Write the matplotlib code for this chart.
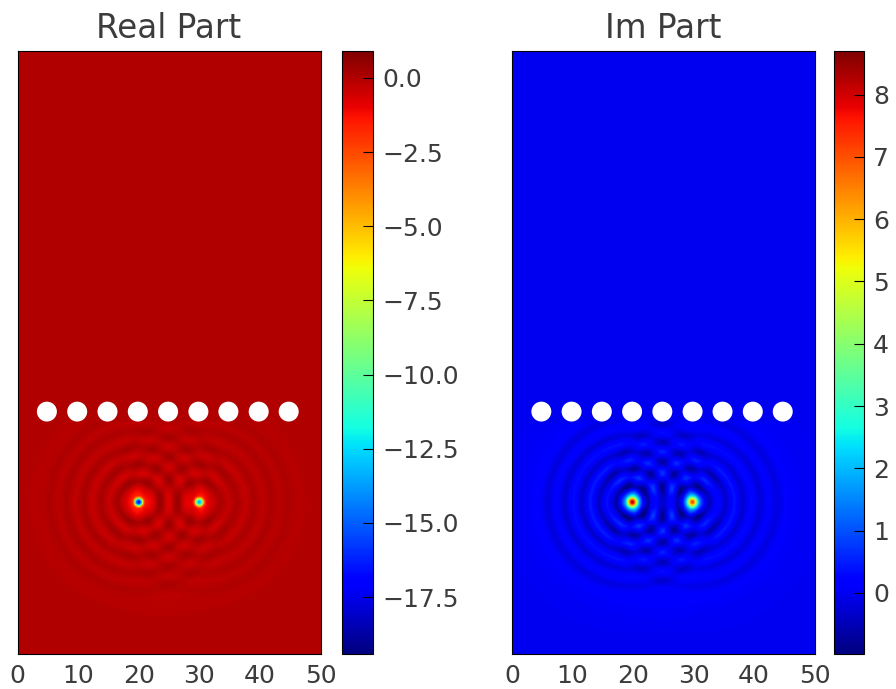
import numpy as np
import matplotlib
matplotlib.use('Agg')
import matplotlib.pyplot as plt

W, H = 896, 689

# grid of the simulated domain
x_max = 50
y_max = 100
cell = 0.25

# white holes in the row
hole_x = [4.85, 9.85, 14.85, 19.85, 24.85, 29.85, 34.8, 39.8, 44.75]
hole_y = 40.2
hole_r = 1.65

# the two sources and where the ripples stop (just under the holes)
source_x = [19.85, 29.8]
source_y = 25.2
source_scale_real = [1.0, 0.78]
source_scale_im = [1.0, 0.85]
cutoff_y = 38.5

# radial profiles: radius, value at that radius
real_r = [0, 0.4, 0.65, 0.85, 1.1, 2.0, 3.4, 4.8, 6.2, 7.6, 9.0, 10.4, 11.8, 13.2, 14.6, 16.0, 18.0, 22.0]
real_v = [-19.0, -14.0, -8.0, -3.0, -1.5, -0.9, 0.4, -0.5, 0.28, -0.35, 0.2, -0.26, 0.14, -0.18, 0.08, -0.1, -0.04, 0.0]
im_r = [0, 0.3, 0.6, 0.85, 1.2, 1.7, 2.6, 4.1, 5.5, 6.9, 8.3, 9.7, 11.1, 12.5, 13.9, 15.3, 17.5, 22.0]
im_v = [8.7, 7.5, 5.5, 3.5, 1.9, 0.7, -0.85, 0.55, -0.55, 0.45, -0.42, 0.34, -0.3, 0.22, -0.2, 0.12, 0.05, 0.0]

real_ticks = [0, -2.5, -5, -7.5, -10, -12.5, -15, -17.5]
im_ticks = [0, 1, 2, 3, 4, 5, 6, 7, 8]
real_lim = (-19.42, 0.91)
im_lim = (-0.98, 8.7)
x_ticks = [0, 10, 20, 30, 40, 50]


def build_field(radii, values, scales):
    xs = np.arange(0, x_max + cell, cell)
    ys = np.arange(0, y_max + cell, cell)
    xx, yy = np.meshgrid(xs, ys)
    field = np.zeros_like(xx)
    for sx, scale in zip(source_x, scales):
        r = np.hypot(xx - sx, yy - source_y)
        field += scale * np.interp(r, radii, values)
    field[yy > cutoff_y] = 0
    return field


def px_axes(left, top, right, bottom):
    return fig.add_axes([left / W, 1 - bottom / H, (right - left) / W, (bottom - top) / H])


def draw_panel(ax, cax, field, lim, ticks, title):
    half = cell / 2
    im = ax.imshow(field, origin='lower', extent=[-half, x_max + half, -half, y_max + half],
                   cmap='jet', vmin=lim[0], vmax=lim[1], interpolation='bilinear', aspect='auto')
    for hx in hole_x:
        ax.add_patch(plt.Circle((hx, hole_y), hole_r, color='white', lw=0))
    ax.set_xlim(0, x_max)
    ax.set_ylim(0, y_max)
    ax.set_xticks(x_ticks)
    ax.set_yticks([])
    ax.tick_params(axis='x', length=0, labelsize=18, pad=7, labelcolor='#3c3c3c')
    ax.set_title(title, fontsize=23.5, color='#3c3c3c', pad=9)
    cb = fig.colorbar(im, cax=cax)
    cb.set_ticks(ticks)
    cax.tick_params(axis='y', direction='in', length=7, width=0.8, labelsize=18,
                    pad=7, labelcolor='#3c3c3c')


fig = plt.figure(figsize=(W / 100, H / 100), dpi=100)

ax1 = px_axes(17.5, 51, 320.5, 654)
cax1 = px_axes(342, 51, 372.5, 654)
ax2 = px_axes(512, 51, 814.5, 654)
cax2 = px_axes(833.5, 51, 863.5, 654)

draw_panel(ax1, cax1, build_field(real_r, real_v, source_scale_real), real_lim, real_ticks, 'Real Part')
draw_panel(ax2, cax2, build_field(im_r, im_v, source_scale_im), im_lim, im_ticks, 'Im Part')

fig.savefig('out.png', dpi=100)
